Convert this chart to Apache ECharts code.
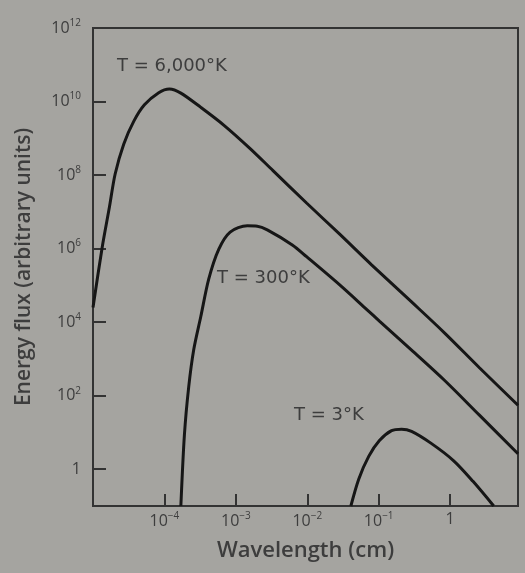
<!DOCTYPE html>
<html>
<head>
<meta charset="utf-8">
<script src="https://cdn.jsdelivr.net/npm/echarts@6/dist/echarts.min.js"></script>
<style>
  html, body { margin: 0; padding: 0; background: #a5a4a0; }
  #chart { width: 525px; height: 573px; }
</style>
</head>
<body>
<div id="chart"></div>
<script>
// All values are log10 exponents
// x: log10(wavelength in cm), y: log10(energy flux, arbitrary units)
const xTicks = [-4, -3, -2, -1, 0];
const yTicks = [0, 2, 4, 6, 8, 10, 12];

const t6000X = [-5.0, -4.87, -4.77, -4.69, -4.57, -4.43, -4.28, -4.08, -3.93, -3.77, -3.49, -3.17, -2.8, -2.48, -2.01, -1.55, -1.10, -0.54, -0.08, 0.41, 0.95];
const t6000Y = [4.4, 6.05, 7.13, 8.03, 8.84, 9.46, 9.91, 10.24, 10.34, 10.23, 9.84, 9.36, 8.72, 8.12, 7.24, 6.40, 5.56, 4.55, 3.71, 2.76, 1.74];

const t300X = [-3.77, -3.72, -3.66, -3.59, -3.49, -3.38, -3.24, -3.08, -2.84, -2.70, -2.56, -2.21, -2.01, -1.55, -1.17, -0.99, -0.54, -0.08, 0.41, 0.95];
const t300Y = [-1.0, 0.94, 2.24, 3.25, 4.16, 5.17, 5.98, 6.45, 6.62, 6.61, 6.51, 6.10, 5.78, 5.02, 4.35, 4.03, 3.24, 2.42, 1.47, 0.42];

const t3X = [-1.39, -1.28, -1.14, -0.99, -0.82, -0.68, -0.54, -0.27, 0.05, 0.32, 0.61];
const t3Y = [-1.0, -0.27, 0.35, 0.78, 1.05, 1.09, 1.03, 0.71, 0.23, -0.33, -1.0];

const curveLabels = ['T = 6,000°K', 'T = 300°K', 'T = 3°K'];

function zip(xs, ys) { return xs.map((x, i) => [x, ys[i]]); }

function powLabel(v) {
  if (v === 0) return '{b|1}';
  const e = String(v).replace('-', '\u2212');
  return '{b|10}{s|' + e + '}';
}

const FONT = '"Open Sans", "Noto Sans", sans-serif';
const LFONT = '"DejaVu Sans", "Open Sans", sans-serif';
const TXT = '#3d3d3d';
const LINE = '#161616';
const AX = '#333333';

const rich = {
  b: { fontSize: 16, color: TXT, fontFamily: FONT },
  s: { fontSize: 10, color: TXT, fontFamily: FONT, verticalAlign: 'top', padding: [0, 0, 10, 0] }
};

const chart = echarts.init(document.getElementById('chart'), null, { renderer: 'canvas' });

function lineSeries(name, xs, ys) {
  return {
    name: name,
    type: 'line',
    data: zip(xs, ys),
    showSymbol: false,
    smooth: 0.3,
    clip: true,
    lineStyle: { color: LINE, width: 3 },
    animation: false
  };
}

chart.setOption({
  backgroundColor: '#a5a4a0',
  animation: false,
  grid: {
    left: 93, right: 7, top: 28, bottom: 67,
    show: true, borderColor: AX, borderWidth: 2,
    backgroundColor: 'transparent'
  },
  xAxis: {
    type: 'value',
    min: -5, max: 0.95,
    name: 'Wavelength (cm)',
    nameLocation: 'middle',
    nameGap: 34,
    nameTextStyle: { fontSize: 22, color: TXT, fontFamily: FONT, fontWeight: 600 },
    axisLine: { show: true, onZero: false, lineStyle: { color: AX, width: 2 } },
    axisTick: { show: true, inside: true, length: 12, customValues: xTicks, lineStyle: { color: AX, width: 2 } },
    axisLabel: { customValues: xTicks, formatter: powLabel, rich: rich, margin: 5 },
    splitLine: { show: false }
  },
  yAxis: {
    type: 'value',
    min: -1, max: 12,
    name: 'Energy flux (arbitrary units)',
    nameLocation: 'middle',
    nameGap: 58,
    nameTextStyle: { fontSize: 21, color: TXT, fontFamily: FONT, fontWeight: 600 },
    axisLine: { show: true, onZero: false, lineStyle: { color: AX, width: 2 } },
    axisTick: { show: true, inside: true, length: 13, customValues: yTicks, lineStyle: { color: AX, width: 2 } },
    axisLabel: { customValues: yTicks, formatter: powLabel, rich: rich, margin: 12 },
    splitLine: { show: false }
  },
  series: [
    lineSeries(curveLabels[0], t6000X, t6000Y),
    lineSeries(curveLabels[1], t300X, t300Y),
    lineSeries(curveLabels[2], t3X, t3Y)
  ],
  graphic: [
    { type: 'text', left: 117, top: 57, style: { text: curveLabels[0], fill: TXT, font: '18px ' + LFONT } },
    { type: 'text', left: 217, top: 269, style: { text: curveLabels[1], fill: TXT, font: '18px ' + LFONT } },
    { type: 'text', left: 294, top: 406, style: { text: curveLabels[2], fill: TXT, font: '18px ' + LFONT } }
  ]
});
</script>
</body>
</html>
